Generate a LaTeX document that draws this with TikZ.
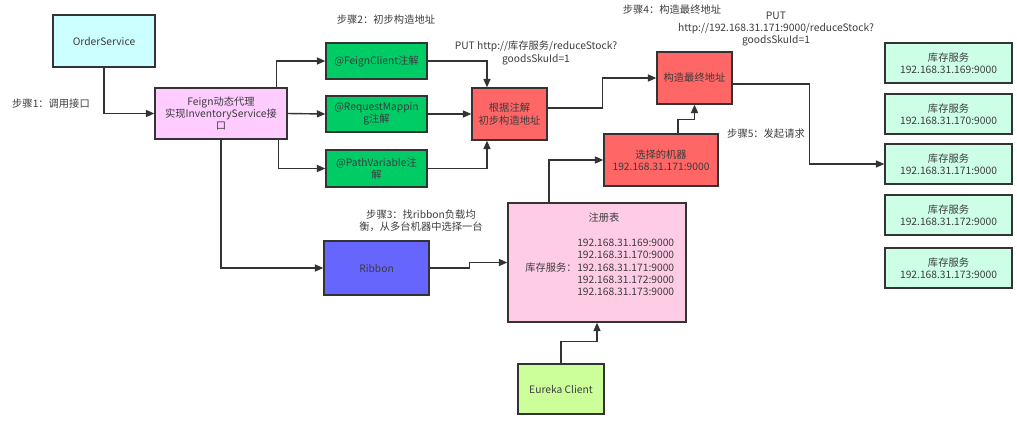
\documentclass[tikz,border=0pt]{standalone}
\usepackage{fontspec}
\setmainfont{Noto Sans CJK SC}
\usepackage{tikz}
\usetikzlibrary{arrows.meta, positioning, calc}
\definecolor{ordercyan}{RGB}{204,255,255}
\definecolor{feignpink}{RGB}{255,204,255}
\definecolor{annogreen}{RGB}{0,204,102}
\definecolor{addrred}{RGB}{255,102,102}
\definecolor{ribbonblue}{RGB}{102,102,255}
\definecolor{regpink}{RGB}{255,204,230}
\definecolor{eurekalime}{RGB}{204,255,153}
\definecolor{invmint}{RGB}{204,255,230}
\definecolor{linegray}{RGB}{51,51,51}
\definecolor{textgray}{RGB}{60,60,60}

\begin{document}
\begin{tikzpicture}[x=0.025cm, y=-0.025cm,
    every node/.style={font=\fontsize{7.3}{8.8}\selectfont, text=textgray, align=center, inner sep=0pt},
    box/.style={draw=linegray, line width=0.9pt},
    arr/.style={draw=linegray, line width=1pt, -{Triangle[length=6pt, width=5pt]}},
    note/.style={}]
    \useasboundingbox (0,0) rectangle (1017,422);
    % servizio chiamante e proxy Feign
    \node[box, fill=ordercyan, minimum width=2.55cm, minimum height=1.3cm] (order) at (104,41) {OrderService};
    \node[box, fill=feignpink, minimum width=3.3cm, minimum height=1.275cm] (feign) at (221,113.5) {Feign动态代理\\实现InventoryService接\\口};
    \node[note] (step1) at (51,104) {步骤1：调用接口};
    % annotazioni
    \node[box, fill=annogreen, minimum width=2.525cm, minimum height=0.9cm] (fc) at (376.5,61) {@FeignClient注解};
    \node[box, fill=annogreen, minimum width=2.525cm, minimum height=0.9cm] (rm) at (376.5,114) {@RequestMappin\\g注解};
    \node[box, fill=annogreen, minimum width=2.525cm, minimum height=0.925cm] (pv) at (376.5,168.5) {@PathVariable注\\解};
    \node[note] (step2) at (386,20) {步骤2：初步构造地址};
    % indirizzi
    \node[box, fill=addrred, minimum width=1.875cm, minimum height=1.3cm] (annot) at (509.5,114) {根据注解\\初步构造地址};
    \node[note] (url1) at (536,53) {PUT http://库存服务/reduceStock?\\goodsSkuId=1};
    \node[box, fill=addrred, minimum width=1.875cm, minimum height=1.3cm] (final) at (694.5,78) {构造最终地址};
    \node[note] (step4) at (672,10) {步骤4：构造最终地址};
    \node[note] (url2) at (776,29) {PUT\\http://192.168.31.171:9000/reduceStock?\\goodsSkuId=1};
    \node[box, fill=addrred, minimum width=2.85cm, minimum height=1.3cm] (select) at (661,160) {选择的机器\\192.168.31.171:9000};
    \node[note] (step5) at (766,134) {步骤5：发起请求};
    % Ribbon e registro
    \node[box, fill=ribbonblue, minimum width=2.625cm, minimum height=1.35cm] (ribbon) at (376.5,268) {Ribbon};
    \node[note] (step3) at (421,221) {步骤3：找ribbon负载均\\衡，从多台机器中选择一台};
    \node[box, fill=regpink, minimum width=4.45cm, minimum height=2.975cm] (registry) at (597,262.5) {};
    \node (regtitle) at (604,218) {注册表};
    \node[anchor=east] (regkey) at (577,267.5) {库存服务：};
    \node[anchor=west, align=left] (reglist) at (577,267.5) {192.168.31.169:9000\\192.168.31.170:9000\\192.168.31.171:9000\\192.168.31.172:9000\\192.168.31.173:9000};
    \node[box, fill=eurekalime, minimum width=2.15cm, minimum height=1.25cm] (eureka) at (561,389) {Eureka Client};
    % istanze del servizio
    \foreach \ip/\y [count=\i] in {169/63, 170/114, 171/164, 172/215, 173/268}
        \node[box, fill=invmint, minimum width=3.175cm, minimum height=1cm] (inv\i) at (948.5,\y) {库存服务\\192.168.31.\ip:9000};
    % frecce
    \draw[arr] (order.south) |- (feign.west);
    \draw[arr] ($(feign.north east)+(-11,0)$) |- (fc.west);
    \draw[arr] (feign.east) -- (rm.west);
    \draw[arr] ($(feign.south east)+(-9,0)$) |- (pv.west);
    \draw[arr] (feign.south) |- (ribbon.west);
    \draw[arr] (fc.east) -| ($(annot.north)+(-22.5,0)$);
    \draw[arr] (rm.east) -- (annot.west);
    \draw[arr] (pv.east) -| ($(annot.south)+(-22.5,0)$);
    \draw[arr] ($(annot.east)+(0,-6)$) -- ($(annot.east)+(55,-6)$) |- (final.west);
    \draw[arr] ($(select.north)+(17,0)$) -- ++(0,-14) -| (final.south);
    \draw[arr] ($(final.east)+(0,6)$) -- ++(77,0) |- (inv3.west);
    \draw[arr] (ribbon.east) -- ++(40,0) |- (registry.west);
    \draw[arr] ($(registry.north)+(-48,0)$) |- (select.west);
    \draw[arr] (eureka.north) -- ++(0,-22) -| (registry.south);
\end{tikzpicture}
\end{document}
